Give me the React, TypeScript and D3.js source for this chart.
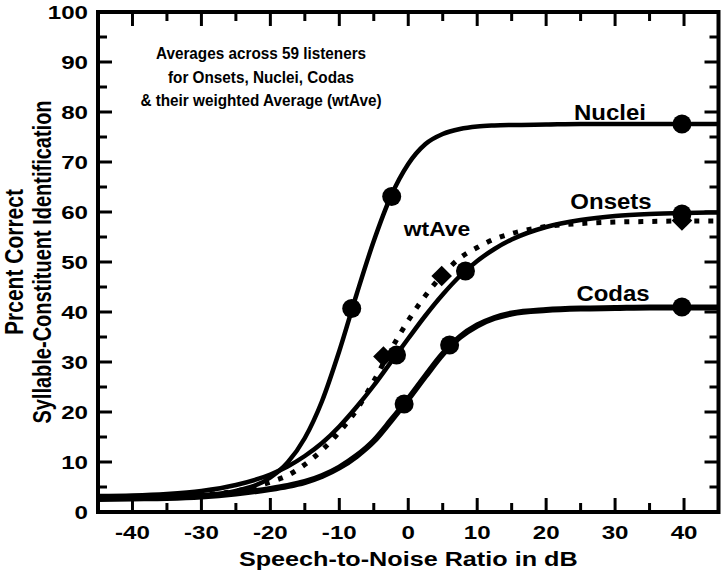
import React from "react";
import * as d3 from "d3";

// ---- data ----
const snrGrid = [-45, -40, -35, -30, -25, -20, -17.5, -15, -12.5, -10, -7.5, -5, -2.5, 0, 2.5, 5, 7.5, 10, 12.5, 15, 20, 25, 30, 35, 40, 45];
const nucleiCurve = [3.0, 3.0, 3.1, 3.35, 4.2, 6.9, 9.9, 14.8, 22.2, 32.2, 43.5, 54.2, 63.2, 69.6, 73.6, 75.6, 76.6, 77.1, 77.3, 77.4, 77.5, 77.6, 77.6, 77.6, 77.6, 77.6];
const onsetsCurve = [3.2, 3.3, 3.6, 4.2, 5.4, 7.5, 9.1, 11.2, 13.8, 17.1, 21.0, 25.3, 30.0, 34.7, 39.3, 43.5, 47.2, 50.2, 52.6, 54.5, 57.0, 58.4, 59.2, 59.6, 59.8, 59.9];
const wtAveCurve = [3.0, 3.0, 3.1, 3.4, 4.2, 6.0, 7.3, 9.5, 12.4, 16.0, 20.4, 26.2, 32.5, 38.3, 43.3, 47.5, 50.8, 52.9, 54.6, 55.7, 57.1, 57.7, 58.0, 58.1, 58.2, 58.2];
const codasCurve = [2.6, 2.7, 2.8, 3.1, 3.7, 4.6, 5.2, 6.0, 7.2, 8.9, 11.2, 14.2, 18.3, 22.6, 27.2, 31.6, 35.0, 37.3, 38.8, 39.7, 40.4, 40.7, 40.8, 40.9, 40.9, 40.9];

const nucleiPtsX = [-8.2, -2.4, 39.7];
const nucleiPtsY = [40.7, 63.1, 77.6];
const onsetsPtsX = [-1.7, 8.3, 39.7];
const onsetsPtsY = [31.4, 48.2, 59.6];
const codasPtsX = [-0.6, 6.0, 39.7];
const codasPtsY = [21.6, 33.4, 41.0];
const wtAvePtsX = [-3.6, 4.85, 39.7];
const wtAvePtsY = [31.1, 47.2, 58.3];

const xTickLabels = [-40, -30, -20, -10, 0, 10, 20, 30, 40];
const yTickLabels = [0, 10, 20, 30, 40, 50, 60, 70, 80, 90, 100];
const noteLines = ["Averages across 59 listeners", "for Onsets, Nuclei, Codas", "& their weighted Average (wtAve)"];

const FONT = "'Liberation Sans', Arial, Helvetica, sans-serif";

function SText(props: { x: number; y: number; sx?: number; rot?: number; fs: number; anchor?: string; children: React.ReactNode }) {
  const { x, y, sx = 1, rot = 0, fs, anchor = "middle", children } = props;
  return (
    <text transform={`translate(${x},${y}) scale(${sx},1) rotate(${rot})`} textAnchor={anchor} fontSize={fs}>
      {children}
    </text>
  );
}

export default function App() {
  const W = 724, H = 578;
  const x = d3.scaleLinear().domain([-45, 45]).range([98, 718.5]);
  const y = d3.scaleLinear().domain([0, 100]).range([512, 12]);

  const line = d3.line<[number, number]>()
    .x(d => x(d[0]))
    .y(d => y(d[1]))
    .curve(d3.curveMonotoneX);
  const mk = (vals: number[]) => line(snrGrid.map((g, i) => [g, vals[i]] as [number, number])) || "";

  const xMinor = d3.range(-45, 45.01, 5);
  const yMinor = d3.range(0, 100.01, 5);
  const MAJ = 14, MIN = 9;

  const circles = (xs: number[], ys: number[], key: string) =>
    xs.map((v, i) => <circle key={key + i} cx={x(v)} cy={y(ys[i])} r={9.5} fill="#000" />);
  const diamond = d3.symbol().type(d3.symbolDiamond2).size(270)();

  return (
    <svg width={W} height={H} style={{ position: "absolute", left: 0, top: 0, background: "#fff" }}
      fontFamily={FONT} fontWeight="bold">
      <rect x={0} y={0} width={W} height={H} fill="#fff" />
      <defs>
        <clipPath id="plotclip">
          <rect x={x(-45)} y={y(100)} width={x(45) - x(-45)} height={y(0) - y(100)} />
        </clipPath>
      </defs>

      {/* ticks */}
      {xMinor.map((v, i) => {
        const len = v % 10 === 0 ? MAJ : MIN;
        return (
          <g key={"xt" + i} stroke="#000" strokeWidth={3}>
            <line x1={x(v)} x2={x(v)} y1={y(0)} y2={y(0) - len} />
            <line x1={x(v)} x2={x(v)} y1={y(100)} y2={y(100) + len} />
          </g>
        );
      })}
      {yMinor.map((v, i) => {
        const len = v % 10 === 0 ? MAJ : MIN;
        return (
          <g key={"yt" + i} stroke="#000" strokeWidth={3}>
            <line x1={x(-45)} x2={x(-45) + len} y1={y(v)} y2={y(v)} />
            <line x1={x(45)} x2={x(45) - len} y1={y(v)} y2={y(v)} />
          </g>
        );
      })}

      {/* curves */}
      <g clipPath="url(#plotclip)" fill="none" stroke="#000" strokeLinecap="butt">
        <path d={mk(codasCurve)} strokeWidth={6} />
        <path d={mk(onsetsCurve)} strokeWidth={4.5} />
        <path d={mk(nucleiCurve)} strokeWidth={4.5} />
        <path d={mk(wtAveCurve)} strokeWidth={5} strokeDasharray="5 9" />
      </g>

      {/* markers */}
      {circles(nucleiPtsX, nucleiPtsY, "n")}
      {circles(onsetsPtsX, onsetsPtsY, "o")}
      {circles(codasPtsX, codasPtsY, "c")}
      {wtAvePtsX.map((v, i) => (
        <path key={"w" + i} d={diamond || ""} transform={`translate(${x(v)},${y(wtAvePtsY[i])})`} fill="#000" />
      ))}

      {/* frame */}
      <rect x={x(-45)} y={y(100)} width={x(45) - x(-45)} height={y(0) - y(100)} fill="none" stroke="#000" strokeWidth={4} />

      {/* tick labels */}
      {xTickLabels.map(v => (
        <SText key={"xl" + v} x={x(v)} y={538.5} sx={1.27} fs={19}>{v}</SText>
      ))}
      {yTickLabels.map(v => (
        <SText key={"yl" + v} x={88} y={y(v) + 6.7} sx={1.27} fs={19} anchor="end">{v}</SText>
      ))}

      {/* axis titles */}
      <SText x={x(0)} y={566} sx={1.2} fs={21}>Speech-to-Noise Ratio in dB</SText>
      <SText x={23} y={262} sx={1.2} rot={-90} fs={21}>Prcent Correct</SText>
      <SText x={51} y={262} sx={1.25} rot={-90} fs={20}>Syllable-Constituent Identification</SText>

      {/* annotation */}
      {noteLines.map((t, i) => (
        <SText key={"nl" + i} x={261} y={59.3 + i * 23.3} sx={0.9} fs={17}>{t}</SText>
      ))}

      {/* series labels */}
      <SText x={610} y={120} sx={1.09} fs={22}>Nuclei</SText>
      <SText x={611} y={209} sx={1.09} fs={22}>Onsets</SText>
      <SText x={437} y={236} sx={1.09} fs={21}>wtAve</SText>
      <SText x={613} y={301} sx={1.09} fs={22}>Codas</SText>
    </svg>
  );
}
